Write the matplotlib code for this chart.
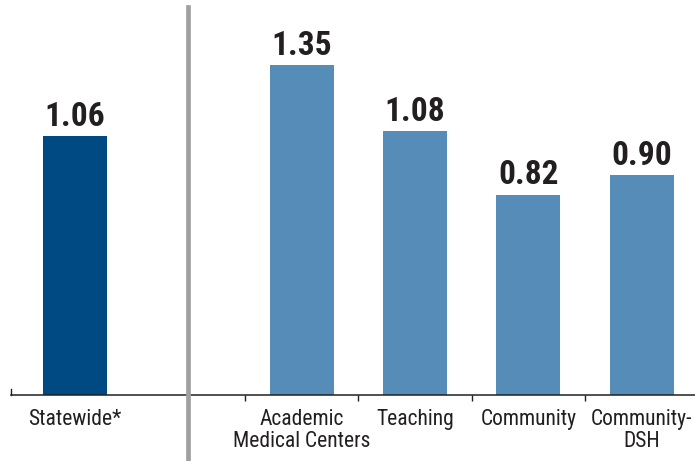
import matplotlib
matplotlib.use("Agg")
import matplotlib.pyplot as plt
from matplotlib import font_manager

categories = ["Statewide*", "Academic\nMedical Centers", "Teaching", "Community", "Community-\nDSH"]
values = [1.06, 1.35, 1.08, 0.82, 0.90]
positions = [0, 2, 3, 4, 5]
bar_colors = ["#004a84", "#568db8", "#568db8", "#568db8", "#568db8"]
value_labels = ["1.06", "1.35", "1.08", "0.82", "0.90"]

names = {f.name for f in font_manager.fontManager.ttflist}
family = "Roboto Condensed" if "Roboto Condensed" in names else "Liberation Sans"
plt.rcParams["font.family"] = [family, "DejaVu Sans"]

W, H, DPI = 695, 461, 100
fig = plt.figure(figsize=(W / DPI, H / DPI), dpi=DPI)
ax = fig.add_axes([11 / W, 66 / H, 684 / W, 395 / H])

bar_w = 0.565
ax.bar(positions, values, width=bar_w, color=bar_colors, zorder=2)

ax.set_xlim(-0.565, 5.47)
ax.set_ylim(0, 1.617)

for x, v, t in zip(positions, values, value_labels):
    ax.annotate(t, (x, v), xytext=(0, 2.4), textcoords="offset points",
                ha="center", va="bottom", fontsize=24, fontweight=800,
                color="#231f20")

for s in ["top", "right", "left"]:
    ax.spines[s].set_visible(False)
ax.spines["bottom"].set_color("#231f20")
ax.spines["bottom"].set_linewidth(1.1)
ax.set_yticks([])

# group dividers on the baseline
ax.set_xticks([1.5, 2.5, 3.5, 4.5])
ax.set_xticklabels([])
ax.tick_params(axis="x", direction="out", length=4.5, width=1.0, color="#231f20")
ax.plot([-0.565, -0.565], [0, 0.025], color="#231f20", lw=1.0, clip_on=False)

for x, lab in zip(positions, categories):
    ax.annotate(lab, (x, 0), xytext=(0, -10), textcoords="offset points",
                ha="center", va="top", fontsize=15.5, color="#231f20",
                linespacing=1.05)

# separator between statewide and hospital types
ax.axvline(1.0, ymin=-66 / 395, ymax=(395 - 7) / 395, color="#a0a0a0",
           lw=3.4, clip_on=False, zorder=3)

fig.savefig("out.png", dpi=DPI)
